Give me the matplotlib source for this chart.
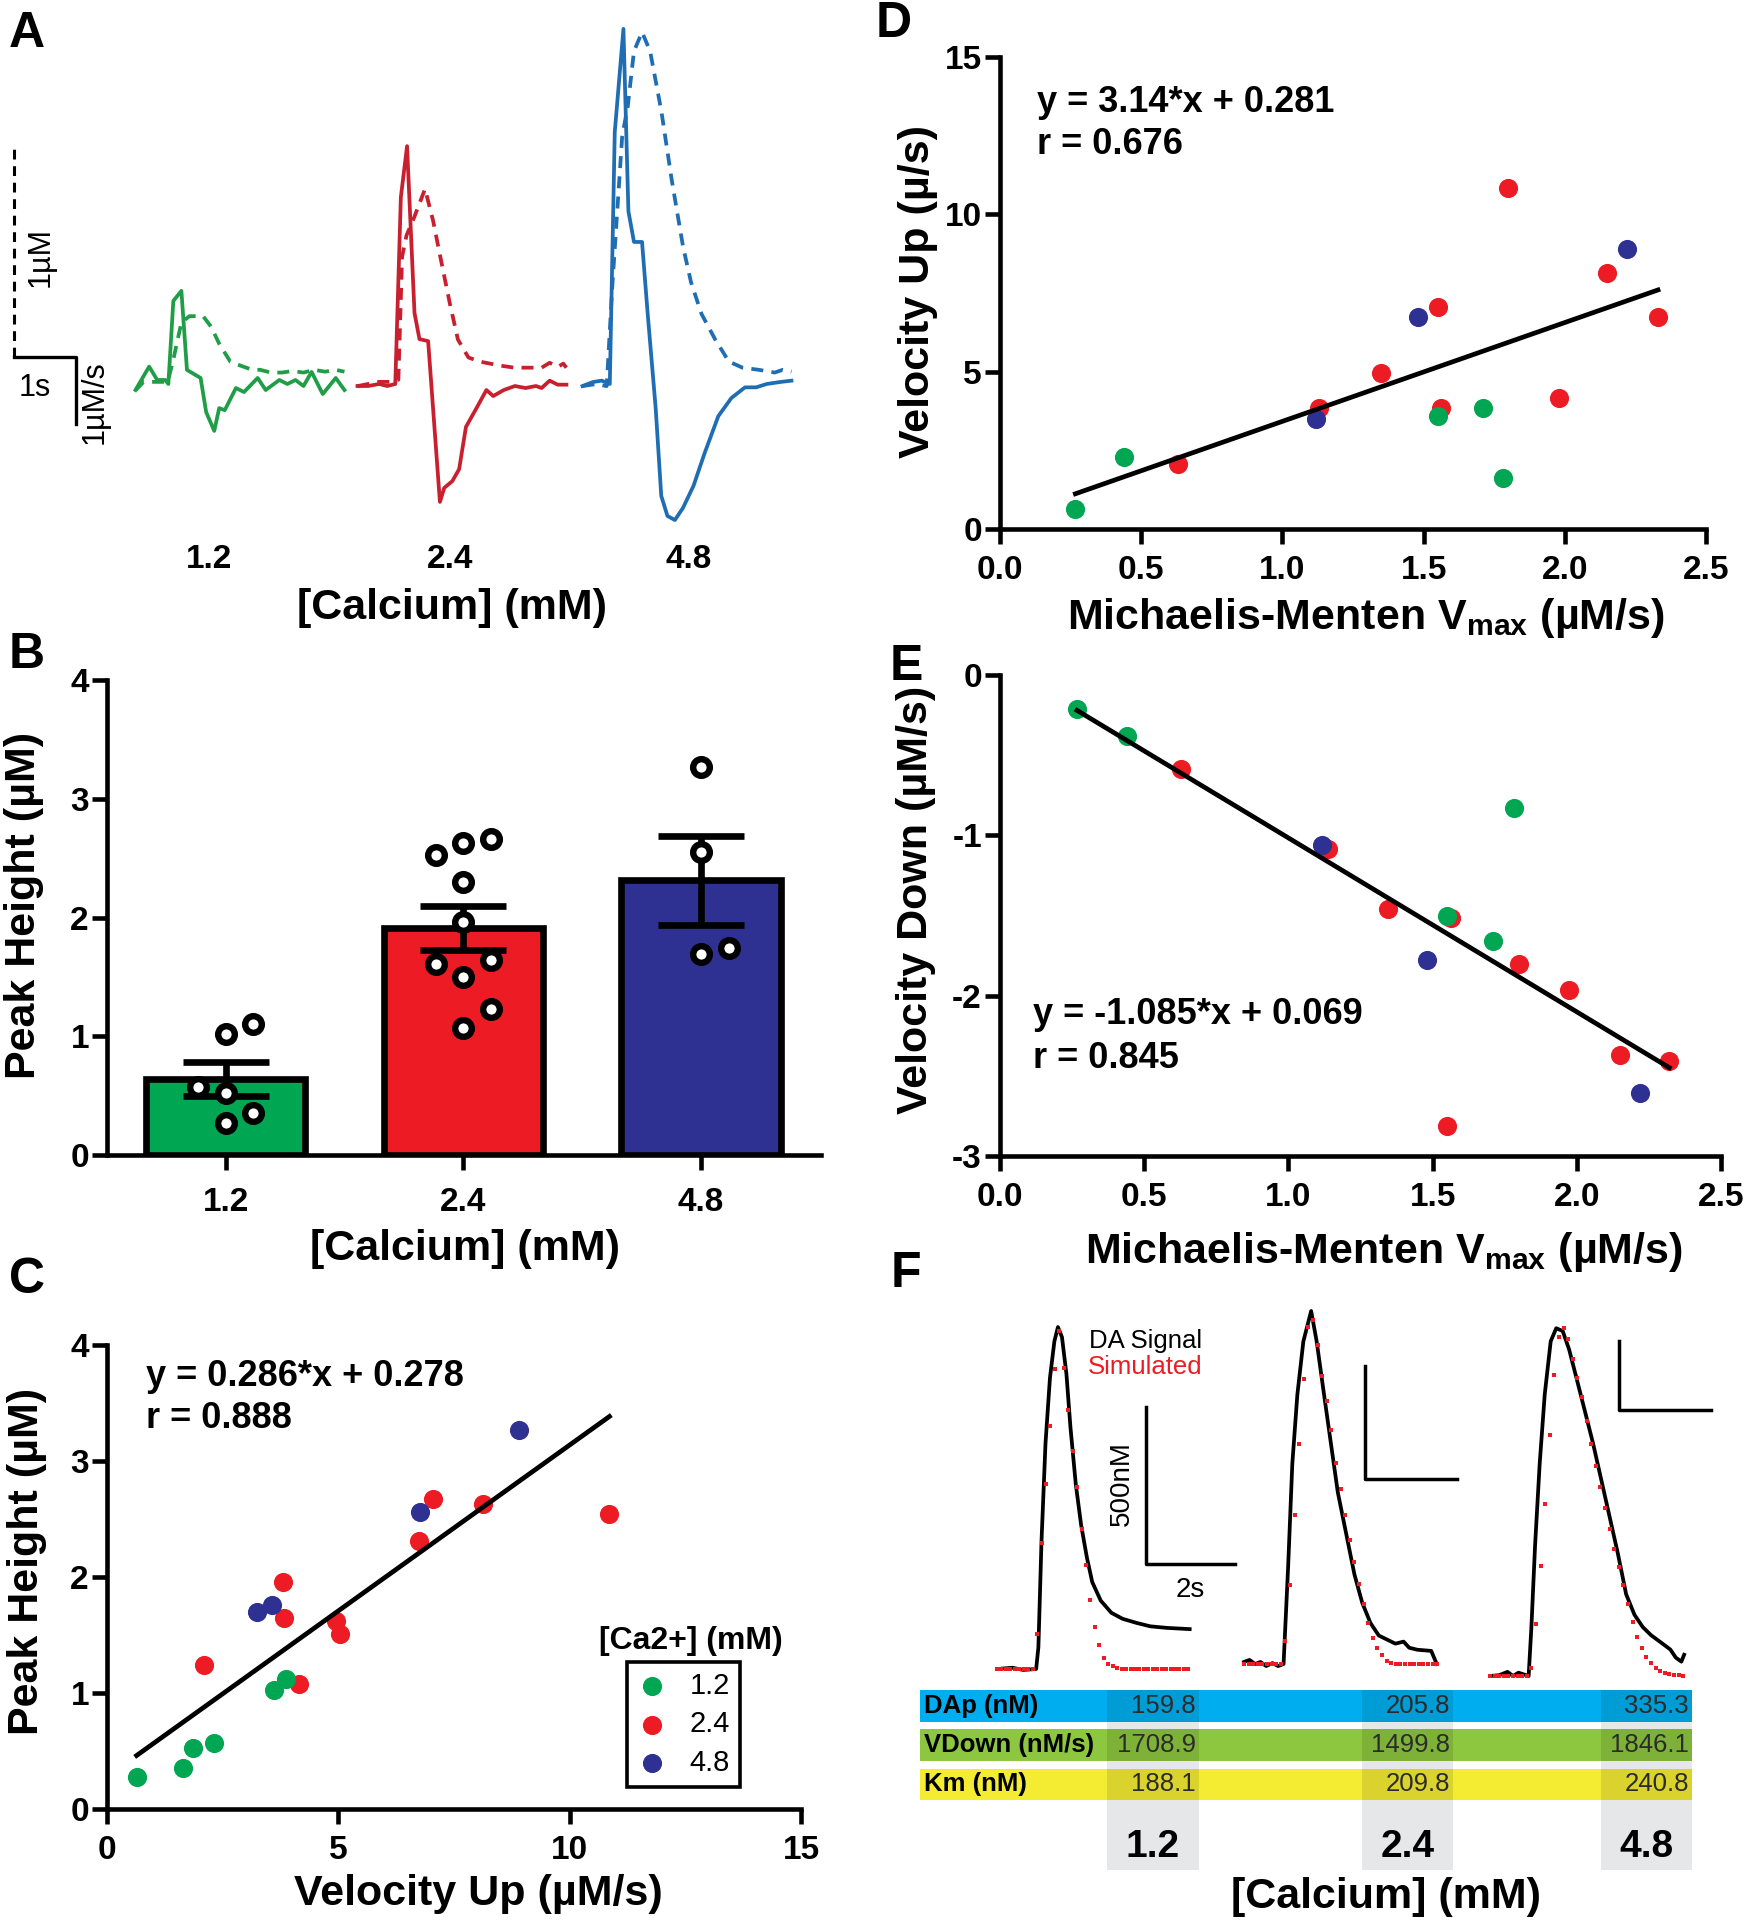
import numpy as np
import matplotlib
matplotlib.use('Agg')
import matplotlib.pyplot as plt
from matplotlib.patches import Rectangle

plt.rcParams['font.family'] = ['Liberation Sans', 'DejaVu Sans']
plt.rcParams['axes.unicode_minus'] = False
plt.rcParams['mathtext.fontset'] = 'custom'
plt.rcParams['mathtext.rm'] = 'Liberation Sans'
plt.rcParams['mathtext.bf'] = 'Liberation Sans:bold'

# ---------------- data ----------------
# panel A: example traces, velocity (uM/s, solid) and concentration (uM, dashed)
A_GREEN_V_T = [0, 0.22, 0.35, 0.48, 0.53, 0.61, 0.74, 0.83, 1.05, 1.14, 1.27, 1.35, 1.44, 1.62, 1.75, 1.97, 2.10, 2.32, 2.45, 2.58, 2.71, 2.84, 3.02, 3.23, 3.37]
A_GREEN_V = [-0.09, 0.26, 0.06, 0.06, 0, 1.24, 1.39, 0.21, 0.09, -0.42, -0.70, -0.36, -0.39, -0.06, -0.12, 0.09, -0.09, 0.06, 0, 0.06, -0.03, 0.18, -0.15, 0.09, -0.09]
A_GREEN_C_T = [0, 0.13, 0.44, 0.52, 0.61, 0.74, 0.87, 1.09, 1.22, 1.35, 1.53, 1.70, 1.88, 2.01, 2.18, 2.36, 2.53, 2.71, 2.88, 3.06, 3.23, 3.37]
A_GREEN_C = [-0.03, 0.01, 0.01, 0.01, 0.115, 0.29, 0.32, 0.32, 0.27, 0.19, 0.105, 0.086, 0.067, 0.067, 0.054, 0.054, 0.061, 0.054, 0.067, 0.058, 0.067, 0.058]

A_RED_V_T = [0, 0.17, 0.35, 0.48, 0.61, 0.70, 0.80, 0.92, 1.00, 1.14, 1.33, 1.40, 1.53, 1.64, 1.75, 1.92, 2.08, 2.19, 2.36, 2.54, 2.71, 2.88, 2.97, 3.10, 3.23, 3.37]
A_RED_V = [-0.03, -0.03, 0, -0.03, 0, 2.79, 3.55, 1.06, 0.67, 0.64, -1.76, -1.55, -1.45, -1.27, -0.64, -0.36, -0.09, -0.18, -0.09, -0.03, -0.06, -0.03, -0.06, 0.05, -0.01, -0.01]
A_RED_C_T = [0, 0.17, 0.35, 0.52, 0.66, 0.72, 0.79, 0.92, 1.09, 1.22, 1.35, 1.49, 1.62, 1.79, 1.97, 2.14, 2.32, 2.53, 2.75, 2.97, 3.10, 3.23, 3.32, 3.37]
A_RED_C = [-0.01, 0, 0.01, 0.01, 0.02, 0.60, 0.70, 0.79, 0.92, 0.77, 0.58, 0.38, 0.21, 0.125, 0.106, 0.096, 0.086, 0.077, 0.077, 0.077, 0.10, 0.081, 0.096, 0.077]

A_BLUE_V_T = [0, 0.17, 0.31, 0.44, 0.52, 0.66, 0.74, 0.83, 0.96, 1.05, 1.18, 1.27, 1.37, 1.49, 1.62, 1.79, 1.97, 2.19, 2.40, 2.62, 2.80, 2.97, 3.19, 3.37]
A_BLUE_V = [-0.03, 0.03, 0.05, 0, 3.76, 5.30, 2.58, 2.12, 2.12, 1.06, -0.36, -1.67, -1.97, -2.03, -1.85, -1.52, -1.03, -0.48, -0.21, -0.05, -0.05, 0, 0.03, 0.05]
A_BLUE_C_T = [0, 0.22, 0.39, 0.48, 0.64, 0.73, 0.83, 0.96, 1.09, 1.27, 1.44, 1.62, 1.75, 1.92, 2.14, 2.36, 2.58, 2.84, 3.10, 3.23, 3.37]
A_BLUE_C = [-0.01, 0, -0.01, 0.46, 1.17, 1.31, 1.57, 1.66, 1.57, 1.29, 0.96, 0.65, 0.48, 0.33, 0.21, 0.106, 0.077, 0.067, 0.054, 0.067, 0.058]

CA_LABELS = ['1.2', '2.4', '4.8']

# panel B: peak heights (uM) per calcium group
PEAK_12 = [1.02, 1.10, 0.57, 0.52, 0.35, 0.27]
PEAK_24 = [2.53, 2.63, 2.66, 2.30, 1.96, 1.61, 1.64, 1.50, 1.23, 1.07]
PEAK_48 = [3.27, 2.55, 1.69, 1.74]

# panel C: velocity up (uM/s) vs peak height (uM)
C_X_12 = [0.64, 1.64, 1.86, 2.31, 3.60, 3.86]
C_Y_12 = [0.28, 0.35, 0.53, 0.57, 1.03, 1.12]
C_X_24 = [2.09, 3.80, 3.83, 4.95, 5.04, 4.15, 6.74, 7.05, 8.13, 10.86]
C_Y_24 = [1.24, 1.96, 1.65, 1.62, 1.51, 1.08, 2.31, 2.67, 2.63, 2.54]
C_X_48 = [3.25, 3.56, 6.77, 8.91]
C_Y_48 = [1.70, 1.76, 2.56, 3.27]
C_FIT = (0.286, 0.278, 0.888)

# panel D: Vmax vs velocity up
D_X_12 = [0.267, 0.44, 1.55, 1.71, 1.78]
D_Y_12 = [0.635, 2.29, 3.59, 3.85, 1.62]
D_X_24 = [0.63, 1.13, 1.35, 1.55, 1.56, 1.80, 1.98, 2.15, 2.33]
D_Y_24 = [2.07, 3.85, 4.95, 7.05, 3.85, 10.84, 4.15, 8.13, 6.74]
D_X_48 = [1.12, 1.48, 2.22]
D_Y_48 = [3.50, 6.74, 8.89]
D_FIT = (3.14, 0.281, 0.676)

# panel E: Vmax vs velocity down
E_X_12 = [0.267, 0.442, 1.549, 1.709, 1.782]
E_Y_12 = [-0.211, -0.382, -1.505, -1.657, -0.831]
E_X_24 = [0.629, 1.138, 1.347, 1.563, 1.801, 1.973, 2.150, 2.321, 1.549]
E_Y_24 = [-0.585, -1.086, -1.457, -1.513, -1.805, -1.963, -2.37, -2.41, -2.81]
E_X_48 = [1.118, 1.482, 2.220]
E_Y_48 = [-1.060, -1.780, -2.606]
E_FIT = (-1.085, 0.069, 0.845)

# panel F: measured DA signal (nM) and simulated fit (nM, 0.1 s samples)
F1_T = [0, 0.35, 0.59, 0.88, 0.93, 1.00, 1.09, 1.19, 1.29, 1.37, 1.46, 1.56, 1.65, 1.77, 1.89, 2.02, 2.14, 2.33, 2.57, 2.82, 3.13, 3.44, 3.81, 4.33]
F1_C = [0, 4, -3, 0, 69, 407, 719, 927, 1044, 1089, 1057, 940, 771, 589, 459, 355, 277, 218, 179, 160, 147, 136, 131, 127]
F1_SIM = [0, 0, 0, 0, 0, 0, 0, 0, 0, 110, 400, 590, 775, 955, 1075, 960, 825, 695, 580, 445, 330, 220, 135, 75, 35, 15, 8, 4,
          0, 0, 0, 0, 0, 0, 0, 0, 0, 0, 0, 0, 0, 0, 0, 0]
F2_T = [0, 0.12, 0.24, 0.36, 0.48, 0.62, 0.74, 0.86, 0.96, 1.05, 1.16, 1.29, 1.46, 1.58, 1.74, 1.89, 2.04, 2.22, 2.40, 2.57, 2.75, 2.93, 3.11, 3.29, 3.47, 3.59, 3.77, 4.07, 4.19]
F2_C = [9, 18, 0, 9, -9, 4, -9, 0, 433, 885, 1192, 1427, 1562, 1427, 1192, 975, 759, 578, 397, 271, 181, 126, 108, 90, 99, 72, 63, 58, 0]
F2_SIM = [0, 0, 0, 0, 0, 0, 0, 0, 0, 100, 350, 660, 975, 1260, 1490, 1520, 1410, 1275, 1165, 1035, 890, 775, 660, 550, 450, 355,
          265, 180, 115, 70, 40, 15, 5, 0, 0, 0, 0, 0, 0, 0, 0, 0, 0]
F3_T = [0, 0.2, 0.38, 0.5, 0.62, 0.84, 0.90, 0.98, 1.08, 1.19, 1.32, 1.44, 1.58, 1.72, 1.88, 2.06, 2.24, 2.42, 2.60, 2.78, 2.96, 3.14, 3.32, 3.50, 3.74, 3.92, 4.04, 4.16, 4.22]
F3_C = [0, 6, 30, 0, 24, 0, 355, 947, 1538, 2041, 2426, 2520, 2500, 2366, 2159, 1923, 1686, 1420, 1154, 887, 592, 444, 355, 296, 237, 192, 133, 104, 154]
F3_SIM = [0, 0, 0, 0, 0, 0, 0, 0, 0, 60, 380, 800, 1250, 1750, 2180, 2460, 2520, 2440, 2300, 2160, 2020, 1850, 1680, 1520, 1370,
          1220, 1065, 920, 790, 660, 520, 390, 280, 200, 140, 95, 60, 38, 22, 12, 7, 4, 2]
SIM_DT = 0.1

TABLE_ROWS = ['DAp (nM)', 'VDown (nM/s)', 'Km (nM)']
DAP = [159.8, 205.8, 335.3]
VDOWN = [1708.9, 1499.8, 1846.1]
KM = [188.1, 209.8, 240.8]

# ---------------- styles ----------------
GREEN, RED, BLUE = '#00a651', '#ed1c24', '#2e3192'
TR_GREEN, TR_RED, TR_BLUE = '#1f9e47', '#c8202f', '#1f6db3'
W, H = 1744, 1920

fig = plt.figure(figsize=(W / 100, H / 100), dpi=100)


def px_axes(left, top, right, bottom):
    return fig.add_axes([left / W, 1 - bottom / H, (right - left) / W, (bottom - top) / H])


def ptext(x, y, s, **kw):
    kw.setdefault('ha', 'center')
    kw.setdefault('va', 'center')
    return fig.text(x / W, 1 - y / H, s, **kw)


def style_axes(ax, xpad=8):
    for s in ['top', 'right']:
        ax.spines[s].set_visible(False)
    for s in ['left', 'bottom']:
        ax.spines[s].set_linewidth(3.3)
    ax.tick_params(direction='out', length=11, width=3.3, labelsize=24)
    ax.tick_params(axis='y', pad=2)
    ax.tick_params(axis='x', pad=xpad)
    for lab in ax.get_xticklabels() + ax.get_yticklabels():
        lab.set_fontweight('bold')


# ---------------- panel A ----------------
CONC_SCALE = 212 / 67.0     # 1 uM drawn as tall as 3.16 uM/s
axA = px_axes(0, 0, 850, 640)
axA.set_xlim(-135.5 / 62, (850 - 135.5) / 62)
axA.set_ylim((384 - 640) / 67, 384 / 67)
axA.axis('off')
offsets = [0, 3.58, 7.21]
traces = [(A_GREEN_V_T, A_GREEN_V, A_GREEN_C_T, A_GREEN_C, TR_GREEN),
          (A_RED_V_T, A_RED_V, A_RED_C_T, A_RED_C, TR_RED),
          (A_BLUE_V_T, A_BLUE_V, A_BLUE_C_T, A_BLUE_C, TR_BLUE)]
for off, (vt, v, ct, c, col) in zip(offsets, traces):
    axA.plot(np.array(vt) + off, v, color=col, lw=2.7)
    axA.plot(np.array(ct) + off, np.array(c) * CONC_SCALE, color=col, lw=2.7, dashes=(3.2, 2.2))
# scale bars
sx, sy = -1.966, 0.403
axA.plot([sx, sx], [sy, sy + CONC_SCALE], color='black', lw=2.2, dashes=(3.2, 2.2))
axA.plot([sx, sx + 1, sx + 1], [sy, sy, sy - 1], color='black', lw=2.4)
axA.text(-1.524, 1.896, '1µM', rotation=90, ha='center', va='center', fontsize=22)
axA.text(-1.62, -0.06, '1s', ha='center', va='center', fontsize=22)
axA.text(-0.653, -0.27, '1µM/s', rotation=90, ha='center', va='center', fontsize=22)
for xp, lab in zip([209, 450, 689], CA_LABELS):
    ptext(xp, 559, lab, fontsize=24, fontweight='bold')
ptext(452, 608, '[Calcium] (mM)', fontsize=31, fontweight='bold')

# ---------------- panel B ----------------
axB = px_axes(107, 680, 821, 1155)
groups = [PEAK_12, PEAK_24, PEAK_48]
means = [np.mean(g) for g in groups]
sems = [np.std(g, ddof=1) / np.sqrt(len(g)) for g in groups]
xs = np.arange(3)
axB.bar(xs, means, width=0.67, color=[GREEN, RED, BLUE], edgecolor='black', linewidth=4.8, zorder=2)
axB.errorbar(xs, means, yerr=sems, fmt='none', ecolor='black', elinewidth=4.8, capsize=31, capthick=4.8, zorder=3)
jitter = [[0, 1, -1, 0, 1, 0], [-1, 0, 1, 0, 0, -1, 1, 0, 1, 0], [0, 0, 0, 1]]
for i, (g, jit) in enumerate(zip(groups, jitter)):
    axB.plot(i + 0.116 * np.array(jit), g, 'o', ms=12, mfc='white', mec='black', mew=4.6, zorder=4, clip_on=False)
axB.set_xlim(-0.5, 2.505)
axB.set_ylim(0, 4)
axB.set_yticks([0, 1, 2, 3, 4])
axB.set_xticks(xs)
axB.set_xticklabels(CA_LABELS)
style_axes(axB, xpad=12)
ptext(24, 905, 'Peak Height (µM)', rotation=90, fontsize=31, fontweight='bold')
ptext(465, 1249, '[Calcium] (mM)', fontsize=31, fontweight='bold')


def scatter_panel(ax, sets, fit):
    hs = []
    for (x, y, col) in sets:
        hs.append(ax.scatter(x, y, s=190, color=col, linewidths=0, zorder=3, clip_on=False))
    allx = np.concatenate([s[0] for s in sets])
    lx = np.array([allx.min(), allx.max()])
    ax.plot(lx, fit[0] * lx + fit[1], color='black', lw=3.4, zorder=4)
    return hs


# ---------------- panel C ----------------
axC = px_axes(107, 1345, 801, 1809)
hC = scatter_panel(axC, [(C_X_24, C_Y_24, RED), (C_X_12, C_Y_12, GREEN), (C_X_48, C_Y_48, BLUE)], C_FIT)
axC.set_xlim(0, 15)
axC.set_ylim(0, 4)
axC.set_xticks([0, 5, 10, 15])
axC.set_yticks([0, 1, 2, 3, 4])
style_axes(axC)
leg = axC.legend([hC[1], hC[0], hC[2]], CA_LABELS, loc='upper left', bbox_to_anchor=(0.749, 0.317),
                 borderaxespad=0, frameon=True, fancybox=False, edgecolor='black', framealpha=1,
                 fontsize=21, handlelength=1.0, handletextpad=0.8, labelspacing=0.35, borderpad=0.35)
leg.get_frame().set_linewidth(2.6)
ptext(691, 1641, '[Ca2+] (mM)', fontsize=23, fontweight='bold')
ptext(146, 1376, f'y = {C_FIT[0]}*x + {C_FIT[1]}', ha='left', fontsize=26, fontweight='bold')
ptext(146, 1419, f'r = {C_FIT[2]}', ha='left', fontsize=26, fontweight='bold')
ptext(27, 1561, 'Peak Height (µM)', rotation=90, fontsize=31, fontweight='bold')
ptext(478, 1894, 'Velocity Up (µM/s)', fontsize=31, fontweight='bold')

# ---------------- panel D ----------------
VMAX_LABEL = r'Michaelis-Menten V$_{\mathbf{max}}$ (µM/s)'
axD = px_axes(1000, 57, 1706, 529)
scatter_panel(axD, [(D_X_24, D_Y_24, RED), (D_X_12, D_Y_12, GREEN), (D_X_48, D_Y_48, BLUE)], D_FIT)
axD.set_xlim(0, 2.5)
axD.set_ylim(0, 15)
axD.set_xticks([0, 0.5, 1, 1.5, 2, 2.5])
axD.set_xticklabels(['0.0', '0.5', '1.0', '1.5', '2.0', '2.5'])
axD.set_yticks([0, 5, 10, 15])
style_axes(axD)
ptext(1037, 102, f'y = {D_FIT[0]}*x + {D_FIT[1]}', ha='left', fontsize=26, fontweight='bold')
ptext(1037, 145, f'r = {D_FIT[2]}', ha='left', fontsize=26, fontweight='bold')
ptext(918, 291, 'Velocity Up (µ/s)', rotation=90, fontsize=31, fontweight='bold')
ptext(1366, 618, VMAX_LABEL, fontsize=31, fontweight='bold')

# ---------------- panel E ----------------
axE = px_axes(1000, 675, 1721, 1156)
scatter_panel(axE, [(E_X_24, E_Y_24, RED), (E_X_12, E_Y_12, GREEN), (E_X_48, E_Y_48, BLUE)], E_FIT)
axE.set_xlim(0, 2.5)
axE.set_ylim(-3, 0)
axE.set_xticks([0, 0.5, 1, 1.5, 2, 2.5])
axE.set_xticklabels(['0.0', '0.5', '1.0', '1.5', '2.0', '2.5'])
axE.set_yticks([0, -1, -2, -3])
style_axes(axE)
ptext(1033, 1015, f'y = {E_FIT[0]}*x + {E_FIT[1]}', ha='left', fontsize=26, fontweight='bold')
ptext(1033, 1058, f'r = {E_FIT[2]}', ha='left', fontsize=26, fontweight='bold')
ptext(916, 900, 'Velocity Down (µM/s)', rotation=90, fontsize=31, fontweight='bold')
ptext(1384, 1252, VMAX_LABEL, fontsize=31, fontweight='bold')

# ---------------- panel F ----------------
pax = px_axes(0, 0, W, H)
pax.set_xlim(0, W)
pax.set_ylim(H, 0)
pax.axis('off')
pax.set_zorder(-1)

row_y = [(1690, 1722), (1729, 1761), (1768.5, 1800)]
row_col = ['#00aeef', '#8dc63f', '#f3ec33']
col_x = [(1107, 1198.5), (1362, 1453), (1601, 1692)]
for (x0, x1) in col_x:
    pax.add_patch(Rectangle((x0, 1690), x1 - x0, 180, color='#e6e7e8', lw=0, zorder=1))
for (y0, y1), c in zip(row_y, row_col):
    pax.add_patch(Rectangle((920, y0), 1692 - 920, y1 - y0, color=c, lw=0, zorder=2))
for (x0, x1) in col_x:
    for (y0, y1) in row_y:
        pax.add_patch(Rectangle((x0, y0), x1 - x0, y1 - y0, color='black', alpha=0.1, lw=0, zorder=3))
for (y0, y1), name, vals in zip(row_y, TABLE_ROWS, [DAP, VDOWN, KM]):
    ym = (y0 + y1) / 2
    ptext(924, ym, name, ha='left', fontsize=18.5, fontweight='bold')
    for (x0, x1), v in zip(col_x, vals):
        ptext(x1 - 3, ym, f'{v:.1f}', ha='right', fontsize=18.5, color='#2b2b2b')
for (x0, x1), lab in zip(col_x, CA_LABELS):
    ptext((x0 + x1) / 2, 1847, lab, fontsize=28, fontweight='bold')
ptext(1386, 1897, '[Calcium] (mM)', fontsize=31, fontweight='bold')


def trace_axes(t0, pps, c0, ppn, left, right, top=1290, bottom=1690):
    ax = px_axes(left, top, right, bottom)
    ax.set_xlim((left - t0) / pps, (right - t0) / pps)
    ax.set_ylim((c0 - bottom) / ppn, (c0 - top) / ppn)
    ax.axis('off')
    return ax


ftr = [(F1_T, F1_C, F1_SIM, (997, 44.5, 1669, 157 / 500.0, 985, 1245), (3.35, 333)),
       (F2_T, F2_C, F2_SIM, (1244, 46, 1664, 113 / 500.0, 1235, 1470), (2.63, 819)),
       (F3_T, F3_C, F3_SIM, (1490, 46, 1676, 69 / 500.0, 1480, 1720), (2.80, 1927))]
faxes = []
for t, c, sim, geo, (tsb, csb) in ftr:
    ax = trace_axes(*geo)
    ax.plot(t, c, color='black', lw=2.7, zorder=2)
    ts = np.arange(len(sim)) * SIM_DT
    ax.plot(ts, sim, 's', color=RED, ms=3.0, mew=0, zorder=3)
    ax.plot([tsb, tsb, tsb + 2], [csb + 500, csb, csb], color='black', lw=2.5)
    faxes.append(ax)
faxes[0].text(2.81, 589, '500nM', rotation=90, ha='center', va='center', fontsize=20)
faxes[0].text(4.34, 252, '2s', ha='center', va='center', fontsize=20)
ptext(1089, 1341, 'DA Signal', ha='left', fontsize=18.5)
ptext(1088, 1367, 'Simulated', ha='left', fontsize=18.5, color=RED)

# ---------------- panel letters ----------------
for lab, (x, y) in zip('ABCDEF', [(27, 34), (27, 655), (27, 1280), (894, 24), (906, 667), (906, 1274)]):
    ptext(x, y, lab, fontsize=36, fontweight='bold')

fig.savefig('out.png', dpi=100)
